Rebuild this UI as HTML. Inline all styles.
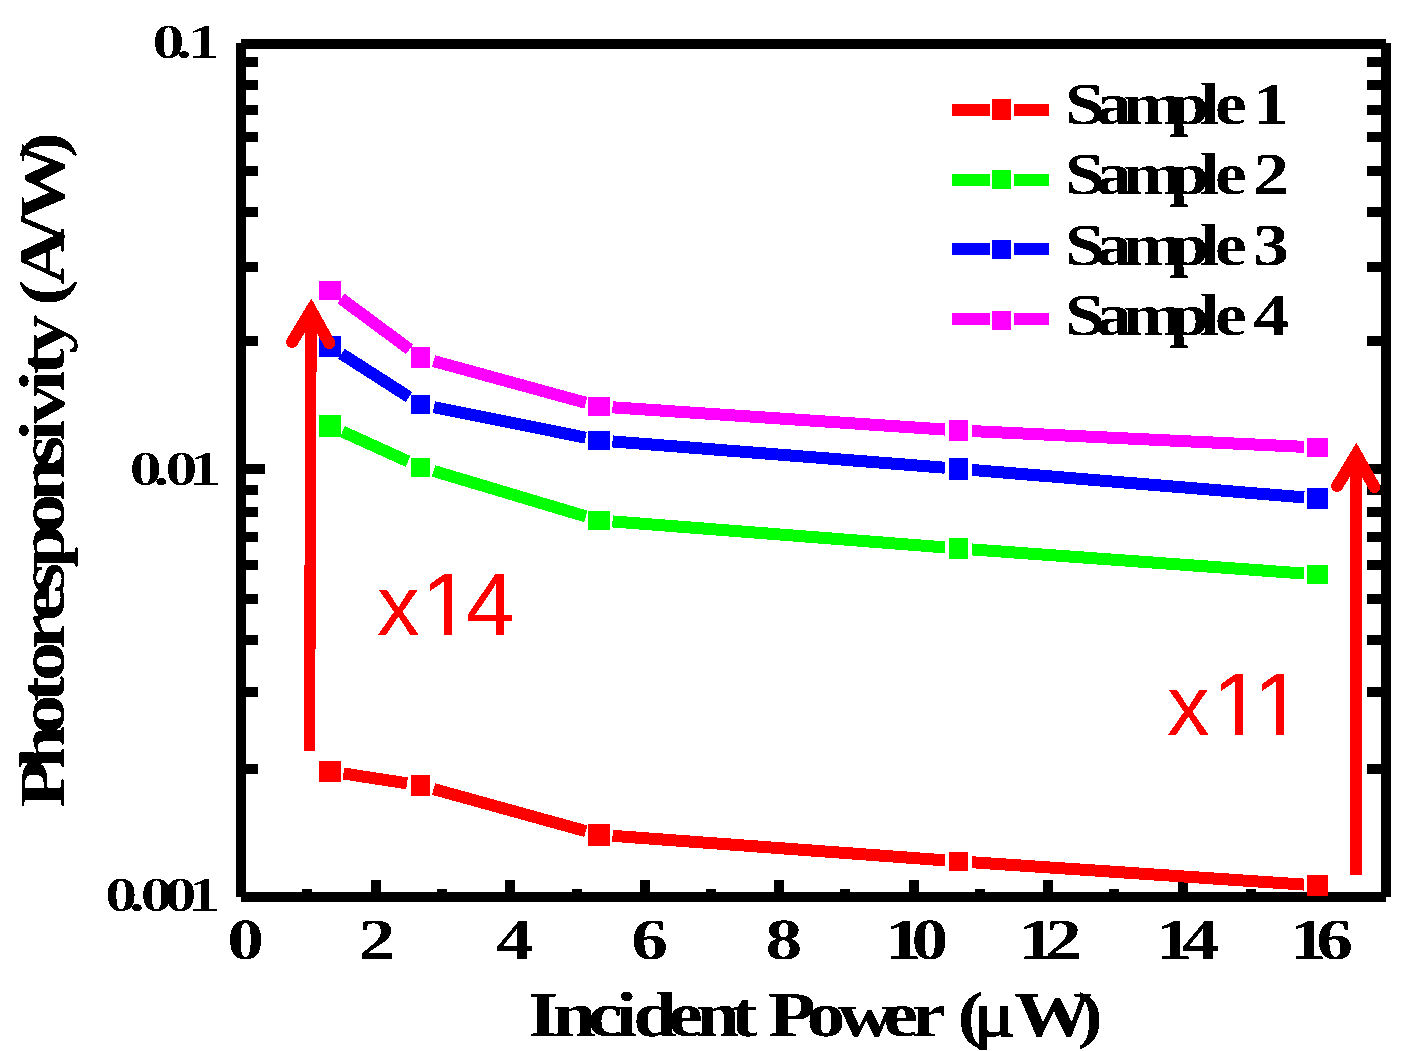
<!DOCTYPE html><html><head><meta charset="utf-8"><title>Photoresponsivity vs Incident Power</title><style>html,body{margin:0;padding:0;background:#fff;overflow:hidden}svg{display:block}</style></head><body>
<svg width="1412" height="1051" viewBox="0 0 1412 1051" shape-rendering="crispEdges" text-rendering="geometricPrecision">
<defs><filter id="bin" x="-10%" y="-30%" width="120%" height="160%" color-interpolation-filters="sRGB"><feComponentTransfer><feFuncA type="discrete" tableValues="0 1"/></feComponentTransfer></filter><filter id="bin2" x="-10%" y="-30%" width="120%" height="160%" color-interpolation-filters="sRGB"><feComponentTransfer><feFuncA type="discrete" tableValues="0 0 0 0 1"/></feComponentTransfer></filter></defs>
<rect width="1412" height="1051" fill="#fff"/>
<rect x="241.00" y="39.00" width="1145.00" height="10.00" fill="#000"/>
<rect x="241.00" y="892.00" width="1145.00" height="10.00" fill="#000"/>
<rect x="236.00" y="43.00" width="10.00" height="854.00" fill="#000"/>
<rect x="1381.00" y="43.00" width="10.00" height="854.00" fill="#000"/>
<rect x="246.00" y="56.70" width="12.00" height="10.00" fill="#000"/>
<rect x="1367.00" y="56.70" width="14.00" height="10.00" fill="#000"/>
<rect x="246.00" y="80.00" width="12.00" height="10.00" fill="#000"/>
<rect x="1367.00" y="80.00" width="14.00" height="10.00" fill="#000"/>
<rect x="246.00" y="105.00" width="12.00" height="10.00" fill="#000"/>
<rect x="1367.00" y="105.00" width="14.00" height="10.00" fill="#000"/>
<rect x="246.00" y="131.90" width="12.00" height="10.00" fill="#000"/>
<rect x="1367.00" y="131.90" width="14.00" height="10.00" fill="#000"/>
<rect x="246.00" y="165.80" width="12.00" height="10.00" fill="#000"/>
<rect x="1367.00" y="165.80" width="14.00" height="10.00" fill="#000"/>
<rect x="246.00" y="206.80" width="12.00" height="10.00" fill="#000"/>
<rect x="1367.00" y="206.80" width="14.00" height="10.00" fill="#000"/>
<rect x="246.00" y="261.90" width="12.00" height="10.00" fill="#000"/>
<rect x="1367.00" y="261.90" width="14.00" height="10.00" fill="#000"/>
<rect x="246.00" y="335.90" width="12.00" height="10.00" fill="#000"/>
<rect x="1367.00" y="335.90" width="14.00" height="10.00" fill="#000"/>
<rect x="246.00" y="463.90" width="19.00" height="10.00" fill="#000"/>
<rect x="1362.00" y="463.90" width="19.00" height="10.00" fill="#000"/>
<rect x="246.00" y="484.70" width="12.00" height="10.00" fill="#000"/>
<rect x="1367.00" y="484.70" width="14.00" height="10.00" fill="#000"/>
<rect x="246.00" y="506.80" width="12.00" height="10.00" fill="#000"/>
<rect x="1367.00" y="506.80" width="14.00" height="10.00" fill="#000"/>
<rect x="246.00" y="532.10" width="12.00" height="10.00" fill="#000"/>
<rect x="1367.00" y="532.10" width="14.00" height="10.00" fill="#000"/>
<rect x="246.00" y="559.80" width="12.00" height="10.00" fill="#000"/>
<rect x="1367.00" y="559.80" width="14.00" height="10.00" fill="#000"/>
<rect x="246.00" y="593.90" width="12.00" height="10.00" fill="#000"/>
<rect x="1367.00" y="593.90" width="14.00" height="10.00" fill="#000"/>
<rect x="246.00" y="634.90" width="12.00" height="10.00" fill="#000"/>
<rect x="1367.00" y="634.90" width="14.00" height="10.00" fill="#000"/>
<rect x="246.00" y="686.70" width="12.00" height="10.00" fill="#000"/>
<rect x="1367.00" y="686.70" width="14.00" height="10.00" fill="#000"/>
<rect x="246.00" y="764.00" width="12.00" height="10.00" fill="#000"/>
<rect x="1367.00" y="764.00" width="14.00" height="10.00" fill="#000"/>
<rect x="302.00" y="889.00" width="10.00" height="3.00" fill="#000"/>
<rect x="371.00" y="880.00" width="10.00" height="12.00" fill="#000"/>
<rect x="437.00" y="889.00" width="10.00" height="3.00" fill="#000"/>
<rect x="505.00" y="880.00" width="10.00" height="12.00" fill="#000"/>
<rect x="572.00" y="889.00" width="10.00" height="3.00" fill="#000"/>
<rect x="640.00" y="880.00" width="10.00" height="12.00" fill="#000"/>
<rect x="706.00" y="889.00" width="10.00" height="3.00" fill="#000"/>
<rect x="774.00" y="880.00" width="10.00" height="12.00" fill="#000"/>
<rect x="840.00" y="889.00" width="10.00" height="3.00" fill="#000"/>
<rect x="909.25" y="880.00" width="10.00" height="12.00" fill="#000"/>
<rect x="975.00" y="889.00" width="10.00" height="3.00" fill="#000"/>
<rect x="1043.00" y="880.00" width="10.00" height="12.00" fill="#000"/>
<rect x="1109.00" y="889.00" width="10.00" height="3.00" fill="#000"/>
<rect x="1178.00" y="880.00" width="10.00" height="12.00" fill="#000"/>
<rect x="1246.00" y="889.00" width="10.00" height="3.00" fill="#000"/>
<rect x="1313.60" y="880.00" width="10.00" height="12.00" fill="#000"/>
<line x1="343.49" y1="773.49" x2="407.06" y2="783.36" stroke="#ff0000" stroke-width="12.0"/>
<line x1="433.61" y1="789.07" x2="585.84" y2="831.18" stroke="#ff0000" stroke-width="12.0"/>
<line x1="612.51" y1="835.80" x2="944.94" y2="860.35" stroke="#ff0000" stroke-width="12.0"/>
<line x1="972.07" y1="862.26" x2="1304.03" y2="884.59" stroke="#ff0000" stroke-width="12.0"/>
<rect x="319.20" y="761.10" width="21.70" height="20.60" fill="#ff0000"/>
<rect x="410.80" y="775.20" width="19.40" height="20.50" fill="#ff0000"/>
<rect x="588.00" y="824.00" width="21.90" height="21.60" fill="#ff0000"/>
<rect x="949.00" y="851.90" width="19.00" height="18.90" fill="#ff0000"/>
<rect x="1307.00" y="875.00" width="21.20" height="21.00" fill="#ff0000"/>
<line x1="342.43" y1="431.53" x2="408.12" y2="461.37" stroke="#00ff00" stroke-width="12.0"/>
<line x1="433.53" y1="470.90" x2="585.92" y2="516.45" stroke="#00ff00" stroke-width="12.0"/>
<line x1="612.51" y1="521.41" x2="944.94" y2="547.39" stroke="#00ff00" stroke-width="12.0"/>
<line x1="972.06" y1="549.43" x2="1304.04" y2="573.52" stroke="#00ff00" stroke-width="12.0"/>
<rect x="319.20" y="415.00" width="21.70" height="21.80" fill="#00ff00"/>
<rect x="410.80" y="457.50" width="19.40" height="19.00" fill="#00ff00"/>
<rect x="588.00" y="511.00" width="21.90" height="18.70" fill="#00ff00"/>
<rect x="949.00" y="538.00" width="19.00" height="20.90" fill="#00ff00"/>
<rect x="1307.00" y="565.00" width="21.20" height="19.00" fill="#00ff00"/>
<line x1="341.50" y1="353.79" x2="409.05" y2="397.06" stroke="#0000ff" stroke-width="12.0"/>
<line x1="433.83" y1="407.09" x2="585.62" y2="437.66" stroke="#0000ff" stroke-width="12.0"/>
<line x1="612.51" y1="441.42" x2="944.94" y2="467.73" stroke="#0000ff" stroke-width="12.0"/>
<line x1="972.05" y1="469.92" x2="1304.05" y2="497.38" stroke="#0000ff" stroke-width="12.0"/>
<rect x="319.20" y="336.10" width="21.70" height="20.70" fill="#0000ff"/>
<rect x="410.80" y="395.00" width="19.40" height="18.80" fill="#0000ff"/>
<rect x="588.00" y="431.00" width="21.90" height="18.70" fill="#0000ff"/>
<rect x="949.00" y="458.00" width="19.00" height="21.60" fill="#0000ff"/>
<rect x="1307.00" y="488.00" width="21.20" height="21.00" fill="#0000ff"/>
<line x1="340.98" y1="298.50" x2="409.57" y2="349.35" stroke="#ff00ff" stroke-width="12.0"/>
<line x1="433.62" y1="361.05" x2="585.83" y2="402.80" stroke="#ff00ff" stroke-width="12.0"/>
<line x1="612.52" y1="407.31" x2="944.93" y2="429.54" stroke="#ff00ff" stroke-width="12.0"/>
<line x1="972.08" y1="431.09" x2="1304.02" y2="446.86" stroke="#ff00ff" stroke-width="12.0"/>
<rect x="319.20" y="281.10" width="21.70" height="18.60" fill="#ff00ff"/>
<rect x="410.80" y="347.00" width="19.40" height="20.90" fill="#ff00ff"/>
<rect x="588.00" y="396.90" width="21.90" height="19.00" fill="#ff00ff"/>
<rect x="949.00" y="420.00" width="19.00" height="20.90" fill="#ff00ff"/>
<rect x="1307.00" y="438.00" width="21.20" height="19.00" fill="#ff00ff"/>
<line x1="311.10" y1="310.50" x2="309.50" y2="750.80" stroke="#f00" stroke-width="11.3"/><polyline points="292.10,342.00 311.10,310.50 329.30,343.10" fill="none" stroke="#f00" stroke-width="12" stroke-linecap="round" stroke-linejoin="miter" stroke-miterlimit="10"/>
<line x1="1356.20" y1="454.50" x2="1356.00" y2="874.70" stroke="#f00" stroke-width="11.6"/><polyline points="1337.20,486.00 1356.20,454.50 1374.40,487.10" fill="none" stroke="#f00" stroke-width="12" stroke-linecap="round" stroke-linejoin="miter" stroke-miterlimit="10"/>
<rect x="952.00" y="103.70" width="37.80" height="12.20" fill="#ff0000"/>
<rect x="1013.80" y="103.70" width="35.30" height="12.20" fill="#ff0000"/>
<rect x="992.30" y="99.10" width="18.60" height="20.60" fill="#ff0000"/>
<rect x="952.00" y="173.80" width="37.80" height="12.20" fill="#00ff00"/>
<rect x="1013.80" y="173.80" width="35.30" height="12.20" fill="#00ff00"/>
<rect x="992.30" y="169.90" width="18.60" height="18.60" fill="#00ff00"/>
<rect x="952.00" y="242.70" width="37.80" height="12.20" fill="#0000ff"/>
<rect x="1013.80" y="242.70" width="35.30" height="12.20" fill="#0000ff"/>
<rect x="992.30" y="239.70" width="18.60" height="19.20" fill="#0000ff"/>
<rect x="952.00" y="312.80" width="37.80" height="12.20" fill="#ff00ff"/>
<rect x="1013.80" y="312.80" width="35.30" height="12.20" fill="#ff00ff"/>
<rect x="992.30" y="310.60" width="18.60" height="19.10" fill="#ff00ff"/>
<text transform="translate(1065.00,124.20) scale(1.2000,1)" x="0.00 25.54 48.49 86.74 112.28 125.04 145.42 156.90" y="0" font-family='"Liberation Serif", serif' font-weight="bold" font-size="59.50" fill="#000" filter="url(#bin)">Sample 1</text>
<text transform="translate(1065.00,194.20) scale(1.2000,1)" x="0.00 25.54 48.49 86.74 112.28 125.04 145.42 156.90" y="0" font-family='"Liberation Serif", serif' font-weight="bold" font-size="59.50" fill="#000" filter="url(#bin)">Sample 2</text>
<text transform="translate(1065.00,264.70) scale(1.2000,1)" x="0.00 25.54 48.49 86.74 112.28 125.04 145.42 156.90" y="0" font-family='"Liberation Serif", serif' font-weight="bold" font-size="59.50" fill="#000" filter="url(#bin)">Sample 3</text>
<text transform="translate(1065.00,334.80) scale(1.2000,1)" x="0.00 25.54 48.49 86.74 112.28 125.04 145.42 156.90" y="0" font-family='"Liberation Serif", serif' font-weight="bold" font-size="59.50" fill="#000" filter="url(#bin)">Sample 4</text>
<text transform="translate(152.20,58.10) scale(1.3200,1)" x="0.00 17.99 26.99" y="0" font-family='"Liberation Serif", serif' font-weight="bold" font-size="49.00" fill="#000" filter="url(#bin2)">0.1</text>
<text transform="translate(129.60,484.60) scale(1.3200,1)" x="0.00 17.99 26.99 44.98" y="0" font-family='"Liberation Serif", serif' font-weight="bold" font-size="49.00" fill="#000" filter="url(#bin2)">0.01</text>
<text transform="translate(105.00,911.30) scale(1.3200,1)" x="0.00 17.99 26.99 44.98 62.97" y="0" font-family='"Liberation Serif", serif' font-weight="bold" font-size="49.00" fill="#000" filter="url(#bin2)">0.001</text>
<text transform="translate(227.25,958.90) scale(1.2600,1)" x="0.00" y="0" font-family='"Liberation Serif", serif' font-weight="bold" font-size="58.30" fill="#000" filter="url(#bin)">0</text>
<text transform="translate(358.45,958.90) scale(1.2600,1)" x="0.00" y="0" font-family='"Liberation Serif", serif' font-weight="bold" font-size="58.30" fill="#000" filter="url(#bin)">2</text>
<text transform="translate(496.35,958.90) scale(1.2600,1)" x="0.00" y="0" font-family='"Liberation Serif", serif' font-weight="bold" font-size="58.30" fill="#000" filter="url(#bin)">4</text>
<text transform="translate(631.35,958.90) scale(1.2600,1)" x="0.00" y="0" font-family='"Liberation Serif", serif' font-weight="bold" font-size="58.30" fill="#000" filter="url(#bin)">6</text>
<text transform="translate(765.55,958.90) scale(1.2600,1)" x="0.00" y="0" font-family='"Liberation Serif", serif' font-weight="bold" font-size="58.30" fill="#000" filter="url(#bin)">8</text>
<text transform="translate(885.05,958.90) scale(1.2600,1)" x="0.00 21.03" y="0" font-family='"Liberation Serif", serif' font-weight="bold" font-size="58.30" fill="#000" filter="url(#bin)">10</text>
<text transform="translate(1018.45,958.90) scale(1.2600,1)" x="0.00 21.03" y="0" font-family='"Liberation Serif", serif' font-weight="bold" font-size="58.30" fill="#000" filter="url(#bin)">12</text>
<text transform="translate(1155.65,958.90) scale(1.2600,1)" x="0.00 21.03" y="0" font-family='"Liberation Serif", serif' font-weight="bold" font-size="58.30" fill="#000" filter="url(#bin)">14</text>
<text transform="translate(1289.85,958.90) scale(1.2600,1)" x="0.00 21.03" y="0" font-family='"Liberation Serif", serif' font-weight="bold" font-size="58.30" fill="#000" filter="url(#bin)">16</text>
<text transform="translate(528.30,1035.80) scale(1.2150,1)" x="0.00 20.18 49.02 72.03 86.44 115.27 138.29 167.13 184.39 197.36 229.03 254.96 292.40 315.42 338.43 353.29 366.44 395.83 399.91 451.59" y="0" font-family='"Liberation Serif", serif' font-weight="bold" font-size="64.00" fill="#000" filter="url(#bin)">Incident Power (<tspan font-weight="normal" stroke="#000" stroke-width="1.5">μ</tspan> W)</text>
<text transform="translate(63.70,807.70) rotate(-90) scale(1.2100,1)" x="0.00 32.01 61.15 87.34 104.79 130.99 154.25 177.50 197.89 227.04 253.23 282.37 302.76 317.32 343.52 358.08 375.53 401.73 414.82 432.27 470.11 484.67 537.07" y="0" font-family='"Liberation Serif", serif' font-weight="bold" font-size="64.50" fill="#000" filter="url(#bin)">Photoresponsivity (A/W)</text>
<text x="376.9 421.7 465.4" y="634.8" font-family='"Liberation Sans", sans-serif' font-size="85.5" fill="#f00" filter="url(#bin)">x<tspan font-size="89">14</tspan></text><rect x="424.70" y="627.30" width="19.60" height="8.50" fill="#fff"/><rect x="452.10" y="627.30" width="17.60" height="8.50" fill="#fff"/>
<text x="1166.9 1212.7 1253.8" y="734.8" font-family='"Liberation Sans", sans-serif' font-size="85.5" fill="#f00" filter="url(#bin)">x<tspan font-size="89">11</tspan></text><rect x="1215.70" y="727.30" width="19.60" height="8.50" fill="#fff"/><rect x="1243.10" y="727.30" width="17.60" height="8.50" fill="#fff"/><rect x="1256.80" y="727.30" width="19.60" height="8.50" fill="#fff"/><rect x="1284.20" y="727.30" width="17.60" height="8.50" fill="#fff"/>
</svg>
</body></html>
